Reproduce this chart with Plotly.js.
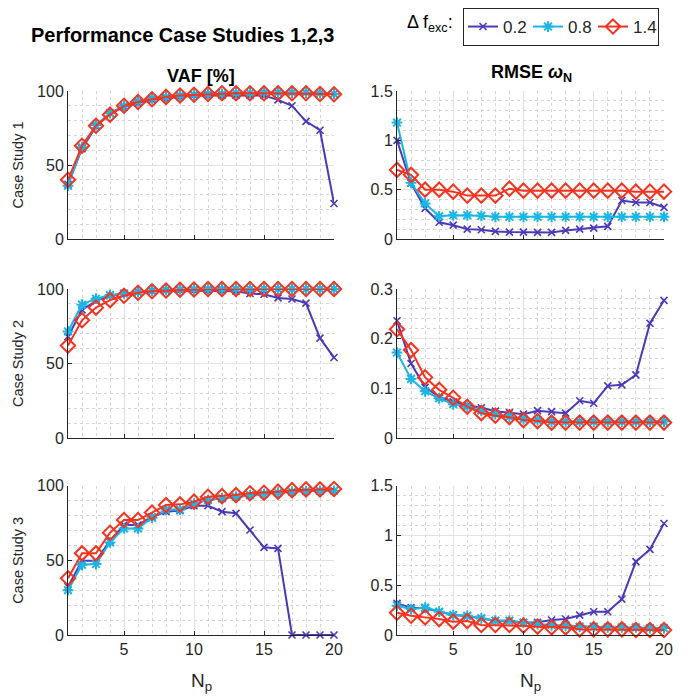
<!DOCTYPE html>
<html>
<head>
<meta charset="utf-8">
<script src="https://cdn.plot.ly/plotly-3.0.1.min.js"></script>
<style>html,body{margin:0;padding:0;background:#fff;}#chart{width:692px;height:697px;}</style>
</head>
<body>
<div id="chart"></div>
<script>
// ---- data ----
const Np = [1,2,3,4,5,6,7,8,9,10,11,12,13,14,15,16,17,18,19,20];
const seriesNames = ['0.2','0.8','1.4'];

// Case study 1
const vaf1_02 = [37,61,76,85,89,92,94,95,96,97,97,97,97,97,97,94,90,79.5,73.5,24];
const vaf1_08 = [36,62,77,85,90,93,95,96,97,97.5,98,98,98.5,98.5,99,99,99,99,98.5,98];
const vaf1_14 = [40,63,76.5,84,90,92.6,94.4,96,97,97.5,98,98.5,98.5,98.5,98.5,98.5,98.5,98.5,98,97.8];
const rmse1_02 = [1.0,0.565,0.31,0.17,0.14,0.10,0.094,0.077,0.07,0.07,0.067,0.067,0.087,0.10,0.11,0.128,0.39,0.37,0.37,0.32];
const rmse1_08 = [1.18,0.57,0.36,0.23,0.24,0.24,0.235,0.225,0.225,0.225,0.225,0.225,0.225,0.225,0.225,0.225,0.225,0.225,0.225,0.225];
const rmse1_14 = [0.70,0.65,0.50,0.50,0.48,0.44,0.44,0.44,0.51,0.49,0.49,0.49,0.49,0.49,0.49,0.49,0.49,0.48,0.48,0.48];

// Case study 2
const vaf2_02 = [68,86,92,95.5,97,98,98.5,99,99,99,99,99,98.5,97,96.5,94,93.3,90.5,67,54];
const vaf2_08 = [71.5,89.5,93.5,96,97,98,99,99.5,99.7,99.8,100,100,100,100,100,100,100,100,100,100];
const vaf2_14 = [62,79,87.5,92.5,95.5,97.5,98.5,99,99.5,99.7,100,100,100,100,100,100,100,100,100,100];
const rmse2_02 = [0.236,0.150,0.102,0.083,0.073,0.066,0.061,0.054,0.051,0.048,0.055,0.053,0.050,0.075,0.070,0.105,0.107,0.127,0.231,0.277];
const rmse2_08 = [0.172,0.119,0.094,0.080,0.068,0.063,0.055,0.048,0.043,0.038,0.036,0.033,0.033,0.033,0.033,0.033,0.033,0.033,0.033,0.033];
const rmse2_14 = [0.219,0.177,0.122,0.097,0.081,0.063,0.050,0.045,0.042,0.036,0.034,0.031,0.031,0.031,0.031,0.031,0.031,0.031,0.031,0.031];

// Case study 3
const vaf3_02 = [32.4,49.8,49.8,63,73.7,73.7,79,82.6,83.3,86.6,86.6,82.6,81.5,70.3,58.7,58,0,0,0,0];
const vaf3_08 = [30,47,47.5,62,71.4,71.4,78.6,84,84,88,90.4,91.5,92.6,93.7,94.4,95.3,96,96.4,96.6,96.6];
const vaf3_14 = [38,54.7,54.7,68.5,77,77,82,87,87.5,89.3,92.6,93,93.7,94.9,95.3,96,97,97.5,97.5,97.8];
const rmse3_02 = [0.318,0.275,0.268,0.234,0.20,0.19,0.167,0.144,0.144,0.124,0.127,0.151,0.161,0.20,0.234,0.234,0.36,0.737,0.86,1.12];
const rmse3_08 = [0.295,0.26,0.275,0.234,0.20,0.194,0.167,0.144,0.144,0.124,0.11,0.10,0.094,0.084,0.084,0.077,0.077,0.077,0.07,0.07];
const rmse3_14 = [0.224,0.194,0.177,0.16,0.134,0.14,0.10,0.10,0.10,0.094,0.084,0.077,0.077,0.057,0.057,0.057,0.057,0.05,0.05,0.05];

// ---- styles ----
const colors = ['#4B3AB8','#1BB6E6','#F5331F'];
const markers = [
  {symbol:'x-thin-open', size:7, line:{width:1.6, color:colors[0]}},
  {symbol:'asterisk-open', size:9, line:{width:2, color:colors[1]}},
  {symbol:'diamond-open', size:11, line:{width:2, color:colors[2]}}
];

const panels = [
  {data:[vaf1_02,vaf1_08,vaf1_14], ax:''},
  {data:[rmse1_02,rmse1_08,rmse1_14], ax:'2'},
  {data:[vaf2_02,vaf2_08,vaf2_14], ax:'3'},
  {data:[rmse2_02,rmse2_08,rmse2_14], ax:'4'},
  {data:[vaf3_02,vaf3_08,vaf3_14], ax:'5'},
  {data:[rmse3_02,rmse3_08,rmse3_14], ax:'6'}
];

const traces = [];
panels.forEach((p, pi) => {
  p.data.forEach((ys, si) => {
    traces.push({
      type:'scatter', mode:'lines+markers',
      x: Np, y: ys,
      xaxis:'x'+p.ax, yaxis:'y'+p.ax,
      name: seriesNames[si],
      showlegend: pi === 0,
      legendgroup: seriesNames[si],
      cliponaxis:false,
      line:{color:colors[si], width:2},
      marker:Object.assign({color:colors[si]}, markers[si])
    });
  });
});

const font = {family:'Liberation Sans, Arial, Helvetica, sans-serif', color:'#262626'};
const axisColor = '#262626';
const xdomL = [68/692, 334/692];
const xdomR = [397/692, 664/692];
const rows = [[1-239/697, 1-91/697],[1-438/697, 1-289/697],[1-635/697, 1-485.7/697]];

function xax(dom, anchor, showLabels){
  return {
    domain:dom, anchor:anchor, range:[1,20], tick0:0, dtick:5,
    ticks:'inside', ticklen:4, tickcolor:axisColor, tickwidth:1,
    showticklabels:showLabels, tickfont:Object.assign({size:16}, font),
    showline:true, linecolor:axisColor, linewidth:1, mirror:false,
    showgrid:true, gridcolor:'#e3e3e3', gridwidth:1, zeroline:false,
    minor:{dtick:1, showgrid:true, gridcolor:'#d6d6d6', griddash:'dot', gridwidth:1, ticks:''},
    fixedrange:true
  };
}
function yax(dom, anchor, range, dtick, minorDtick, title){
  const a = {
    domain:dom, anchor:anchor, range:range, tick0:0, dtick:dtick,
    ticks:'inside', ticklen:4, tickcolor:axisColor, tickwidth:1,
    tickfont:Object.assign({size:16}, font),
    showline:true, linecolor:axisColor, linewidth:1, mirror:false,
    showgrid:true, gridcolor:'#e3e3e3', gridwidth:1, zeroline:false,
    minor:{dtick:minorDtick, showgrid:true, gridcolor:'#d6d6d6', griddash:'dot', gridwidth:1, ticks:''},
    fixedrange:true
  };
  if (title) a.title = {text:title, font:Object.assign({size:14.5}, font), standoff:10};
  return a;
}

const layout = {
  width:692, height:697,
  margin:{l:0,r:0,t:0,b:0},
  paper_bgcolor:'#fff', plot_bgcolor:'#fff',
  font:font,
  showlegend:true,
  legend:{
    orientation:'h', x:463/692, y:1-8/697, xanchor:'left', yanchor:'top',
    bordercolor:'#262626', borderwidth:1, bgcolor:'#fff',
    font:Object.assign({size:17}, font), itemwidth:30, tracegroupgap:0,
    entrywidth:20, entrywidthmode:'pixels'
  },
  xaxis: xax(xdomL,'y',false),
  yaxis: yax(rows[0],'x',[0,100],50,10,'Case Study 1'),
  xaxis2: xax(xdomR,'y2',false),
  yaxis2: yax(rows[0],'x2',[0,1.5],0.5,0.1,null),
  xaxis3: xax(xdomL,'y3',false),
  yaxis3: yax(rows[1],'x3',[0,100],50,10,'Case Study 2'),
  xaxis4: xax(xdomR,'y4',false),
  yaxis4: yax(rows[1],'x4',[0,0.3],0.1,0.02,null),
  xaxis5: xax(xdomL,'y5',true),
  yaxis5: yax(rows[2],'x5',[0,100],50,10,'Case Study 3'),
  xaxis6: xax(xdomR,'y6',true),
  yaxis6: yax(rows[2],'x6',[0,1.5],0.5,0.1,null),
  annotations:[
    {text:'<b>Performance Case Studies 1,2,3</b>', xref:'paper', yref:'paper', x:182/692, y:1-35/697, xanchor:'center', yanchor:'middle', showarrow:false, font:Object.assign({size:20}, font, {color:'#000'})},
    {text:'Δ f<sub>exc</sub>:', xref:'paper', yref:'paper', x:455/692, y:1-24/697, xanchor:'right', yanchor:'middle', showarrow:false, font:Object.assign({size:18}, font, {color:'#000'})},
    {text:'<b>VAF [%]</b>', xref:'paper', yref:'paper', x:201/692, y:1-76/697, xanchor:'center', yanchor:'middle', showarrow:false, font:Object.assign({size:18}, font, {color:'#000'})},
    {text:'<b>RMSE <i>ω</i><sub>N</sub></b>', xref:'paper', yref:'paper', x:531/692, y:1-73/697, xanchor:'center', yanchor:'middle', showarrow:false, font:Object.assign({size:18}, font, {color:'#000'})},
    {text:'N<sub>p</sub>', xref:'paper', yref:'paper', x:201/692, y:1-682/697, xanchor:'center', yanchor:'middle', showarrow:false, font:Object.assign({size:19}, font)},
    {text:'N<sub>p</sub>', xref:'paper', yref:'paper', x:530/692, y:1-682/697, xanchor:'center', yanchor:'middle', showarrow:false, font:Object.assign({size:19}, font)}
  ]
};

Plotly.newPlot('chart', traces, layout, {displayModeBar:false, staticPlot:true});
</script>
</body>
</html>
